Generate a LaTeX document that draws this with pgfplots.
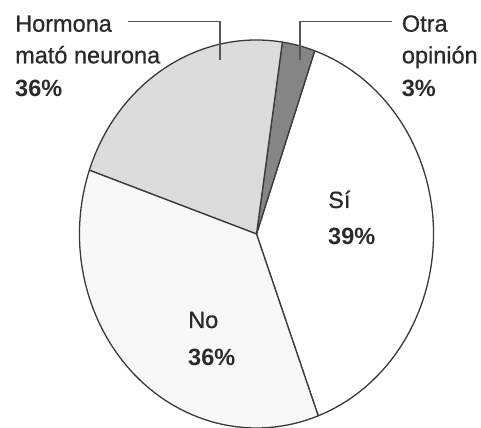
\documentclass[border=0pt]{standalone}
\usepackage{pgfplots}
\pgfplotsset{compat=1.18}
\usepackage{pgfplotstable}
\usepackage{fontspec}
\setmainfont{Liberation Sans}
\newfontfamily\regfont{Liberation Sans}[FakeBold=0.7]
\definecolor{cSi}{HTML}{FFFFFF}
\definecolor{cOtra}{HTML}{858585}
\definecolor{cHorm}{HTML}{DCDCDC}
\definecolor{cNo}{HTML}{F8F8F8}
\definecolor{lc}{HTML}{3A3A3A}
\definecolor{leadc}{HTML}{555555}
\definecolor{txt}{HTML}{2A2A2A}
% slice sizes as drawn (percent of the circle), counter-clockwise from the Si/No border
\pgfplotstableread{
label value color
Si 39 cSi
Otra 3 cOtra
Hormona 22 cHorm
No 36 cNo
}\piedata
\newcommand\piecmds{}
\def\cumang{-69.6}
\pgfplotsforeachungrouped \i in {0,...,3}{%
  \pgfplotstablegetelem{\i}{value}\of\piedata \let\pieV\pgfplotsretval
  \pgfplotstablegetelem{\i}{color}\of\piedata \let\pieC\pgfplotsretval
  \pgfmathsetmacro\endang{\cumang+3.6*\pieV}%
  \edef\piecmds{\unexpanded\expandafter{\piecmds}\noexpand\filldraw[fill=\pieC,draw=lc,line width=1.3bp,line join=round] (axis cs:256.5,194) -- ++(\cumang:177bp and 194bp) arc[start angle=\cumang,end angle=\endang,x radius=177bp,y radius=194bp] -- cycle;}%
  \let\cumang\endang
}
\begin{document}
\begin{tikzpicture}
\path[use as bounding box, clip] (0,0) rectangle (481bp,428bp);
\fill[white] (0,0) rectangle (481bp,428bp);
\begin{axis}[width=481bp,height=428bp,scale only axis,hide axis,
  xmin=0,xmax=481,ymin=0,ymax=428,clip=false,
  at={(0,0)},anchor=south west]
\piecmds
\draw[leadc,line width=1.3bp] (axis cs:128,406.3) -- (axis cs:220,406.3) -- (axis cs:220,368);
\draw[leadc,line width=1.3bp] (axis cs:392,406.3) -- (axis cs:300,406.3) -- (axis cs:300,368);
\tikzset{lbl/.style={anchor=base west,inner sep=0pt,text=txt,font=\regfont\fontsize{23.5bp}{27bp}\selectfont},
  pct/.style={lbl,font=\fontsize{23.5bp}{27bp}\selectfont\bfseries}}
\node[lbl] at (axis cs:15,396.3) {Hormona};
\node[lbl] at (axis cs:15,364.7) {mató neurona};
\node[pct] at (axis cs:15,331.3) {36\%};
\node[lbl] at (axis cs:401.7,396.3) {Otra};
\node[lbl] at (axis cs:401.7,364.7) {opinión};
\node[pct] at (axis cs:401.7,331.3) {3\%};
\node[lbl] at (axis cs:328,220) {Sí};
\node[pct] at (axis cs:328,183) {39\%};
\node[lbl] at (axis cs:188,100) {No};
\node[pct] at (axis cs:188,63) {36\%};
\end{axis}
\end{tikzpicture}
\end{document}
